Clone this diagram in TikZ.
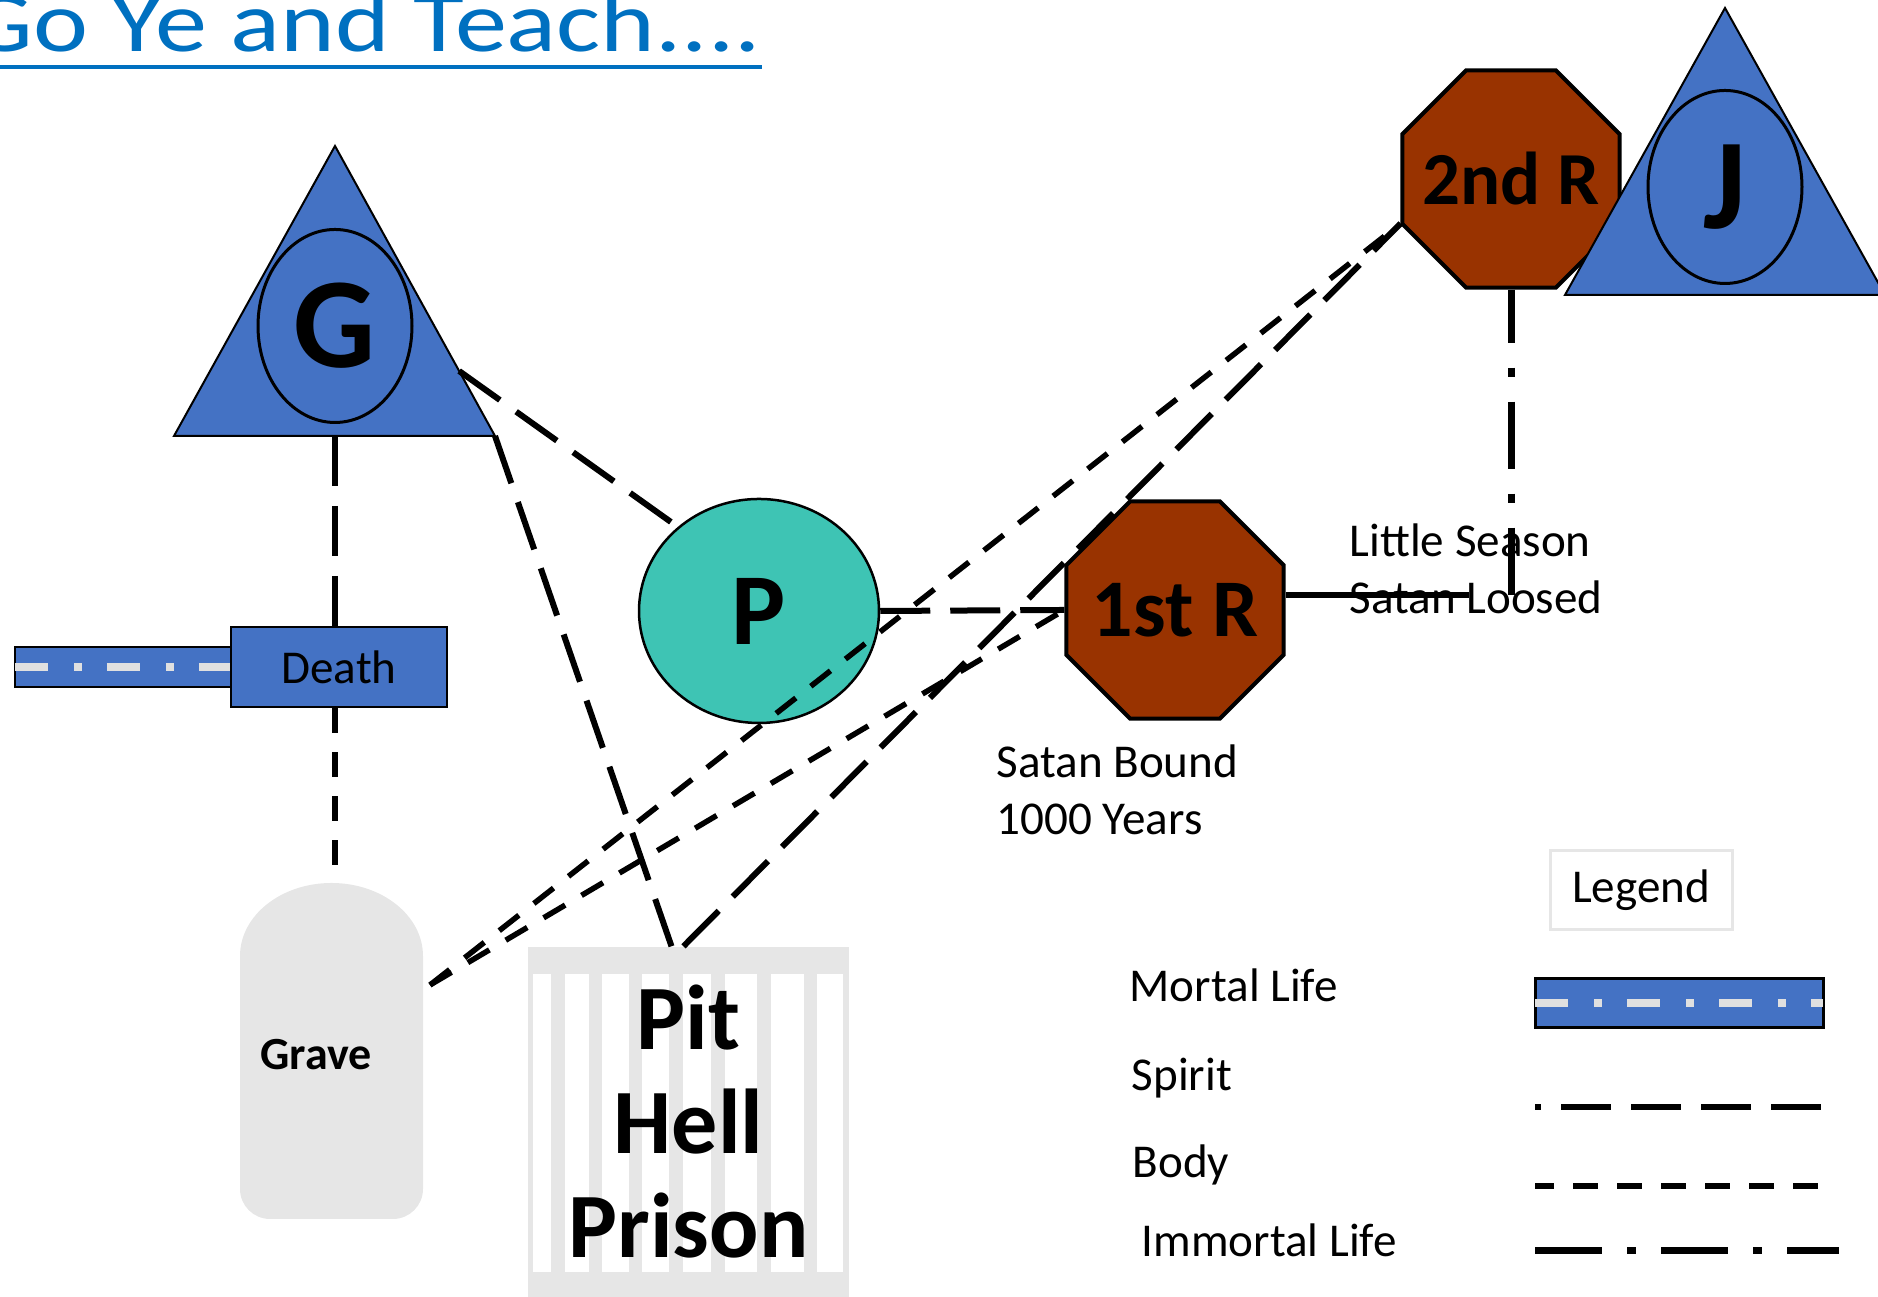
\documentclass[tikz,border=0pt]{standalone}
\usepackage{fontspec}
\setmainfont{Carlito}
\newfontfamily\titlefont[FakeStretch=1.21]{Carlito}
\usepackage{tikz}
\usetikzlibrary{calc}
\usetikzlibrary{shapes.geometric}
\definecolor{slideblue}{HTML}{4472C4}
\definecolor{rustred}{HTML}{993300}
\definecolor{paradise}{HTML}{3EC4B4}
\definecolor{tombgray}{HTML}{E6E6E6}
\definecolor{linkblue}{HTML}{0070C0}
\definecolor{dashgray}{HTML}{E0E0E0}
\newcommand\lblfont[0]{\fontsize{13.4}{16.2}\selectfont}

\begin{document}
\begin{tikzpicture}[
  spirit/.style={black,line width=0.06cm,dash pattern=on 0.5cm off 0.2cm},
  body/.style={black,line width=0.055cm,dash pattern=on 0.25cm off 0.19cm},
  immortal/.style={black,line width=0.07cm,dash pattern=on 0.67cm off 0.25cm on 0.09cm off 0.25cm},
  mortal/.style={dashgray,line width=0.08cm,dash pattern=on 0.33cm off 0.26cm on 0.08cm off 0.25cm},
  crown/.style={ellipse,draw=black,line width=0.03cm,fill=slideblue,minimum width=1.54cm,minimum height=1.93cm,inner sep=0pt,font=\fontsize{36.7}{40}\selectfont\bfseries},
  octo/.style={regular polygon,regular polygon sides=8,minimum size=2.35cm,draw=black,line width=0.04cm,fill=rustred,inner sep=0pt},
  lbl/.style={inner sep=0pt,font=\lblfont,align=left}
]

\useasboundingbox (0,0) rectangle (18.78,12.97);
\clip (0,0) rectangle (18.78,12.97);

\node[anchor=base west,inner sep=0pt,text=linkblue,font=\titlefont\fontsize{24.5}{28}\selectfont] (title) at (-0.33,12.45) {Go Ye and Teach....};
\draw[linkblue,line width=0.04cm] ($(title.base west)+(0,-0.15)$) -- ($(title.base east)+(0,-0.15)$);

\coordinate (G1) at (3.35,11.51);
\coordinate (G2) at (1.74,8.61);
\coordinate (G3) at (4.95,8.61);
\coordinate (J1) at (17.25,12.89);
\coordinate (J2) at (15.65,10.02);
\coordinate (J3) at (18.85,10.02);
\coordinate (V1) at (3.35,4.14);
\coordinate (V2) at (4.30,3.12);
\coordinate (L1) at (14.69,7.02);

\fill[tombgray] (2.40,3.41) arc[start angle=180,end angle=0,x radius=0.915,y radius=0.73] -- (4.23,1.08) arc[start angle=0,end angle=-90,radius=0.3] -- (2.70,0.78) arc[start angle=-90,end angle=-180,radius=0.3] -- cycle;
\node[inner sep=0pt,font=\fontsize{13.1}{16}\selectfont\bfseries] (grave) at (3.16,2.42) {Grave};

\fill[tombgray] (5.28,0) rectangle (8.49,3.50);
\fill[white] (5.33,0.25) rectangle (8.43,3.23);
\foreach \x in {5.58,5.955,6.355,6.76,7.18,7.64,8.105}
  \fill[tombgray] (\x-0.0675,0.25) rectangle (\x+0.0675,3.23);
\node[minimum width=3.21cm,minimum height=3.50cm,inner sep=0pt,align=center,font=\fontsize{26.2}{29.6}\selectfont\bfseries] (pit) at (6.885,1.75) {Pit\\Hell\\Prison};

\draw[fill=slideblue,line width=0.025cm] (0.15,6.10) rectangle (2.5,6.50);
\draw[mortal] (0.15,6.30) -- (2.31,6.30);
\node[draw,fill=slideblue,line width=0.025cm,minimum width=2.16cm,minimum height=0.80cm,inner sep=0pt,font=\lblfont] (death) at (3.39,6.30) {Death};

\draw[fill=slideblue,line width=0.02cm] (G1) -- (G2) -- (G3) -- cycle;
\node[crown] (G) at (3.35,9.71) {G};

\node[ellipse,draw,line width=0.025cm,fill=paradise,minimum width=2.40cm,minimum height=2.24cm,inner sep=0pt,font=\fontsize{29}{32}\selectfont\bfseries] (P) at (7.59,6.86) {P};

\node[octo,font=\fontsize{23.3}{26}\selectfont\bfseries] (R1) at (11.75,6.87) {\makebox[0pt]{1st R}};
\node[octo,font=\fontsize{21.3}{24}\selectfont\bfseries] (R2) at (15.11,11.18) {\makebox[0pt]{2nd R}};

\draw[fill=slideblue,line width=0.02cm] (J1) -- (J2) -- (J3) -- cycle;
\node[crown] (J) at (17.25,11.10) {J};

\draw[spirit] (G1 |- G2) -- (G1 |- death.north);
\draw[body] (V1 |- death.south) -- (V1);
\draw[spirit] ($(G1)!0.776!(G3)$) -- (P.134);
\draw[spirit] (G3) -- ([xshift=-0.17cm]pit.north);
\draw[spirit] ([xshift=-0.05cm]pit.north) -- (R2.202.5);
\draw[spirit] (P.east) -- (R1.west);
\draw[body] (V2) -- (R2.202.5);
\draw[body] (V2) -- (R1.west);
\draw[immortal,dash phase=0.14cm] (R2.south) -- (R2.south |- L1);
\draw[black,line width=0.06cm] (R1.east |- L1) -- (L1);

\node[lbl,anchor=west] (season) at (13.49,7.28) {Little Season\\Satan Loosed};
\node[lbl,anchor=west] (bound) at (9.96,5.07) {Satan Bound\\1000 Years};

\node[draw=tombgray,line width=0.03cm,minimum width=1.82cm,minimum height=0.79cm,inner sep=0pt,font=\lblfont] (legend) at (16.41,4.065) {Legend};
\node[lbl,anchor=base west] (mortallbl) at (11.29,2.95) {Mortal Life};
\node[lbl,anchor=base west] (spiritlbl) at (11.31,2.06) {Spirit};
\node[lbl,anchor=base west] (bodylbl) at (11.32,1.19) {Body};
\node[lbl,anchor=base west] (immortallbl) at (11.41,0.40) {Immortal Life};
\draw[fill=slideblue,line width=0.03cm] (15.35,2.69) rectangle (18.23,3.18);
\draw[mortal] (15.35,2.935) -- (18.23,2.935);
\draw[spirit,dash phase=0.44cm] (15.35,1.90) -- (18.23,1.90);
\draw[body,dash phase=0.06cm] (15.35,1.11) -- (18.23,1.11);
\draw[immortal] (15.35,0.46) -- (18.39,0.46);

\end{tikzpicture}
\end{document}
